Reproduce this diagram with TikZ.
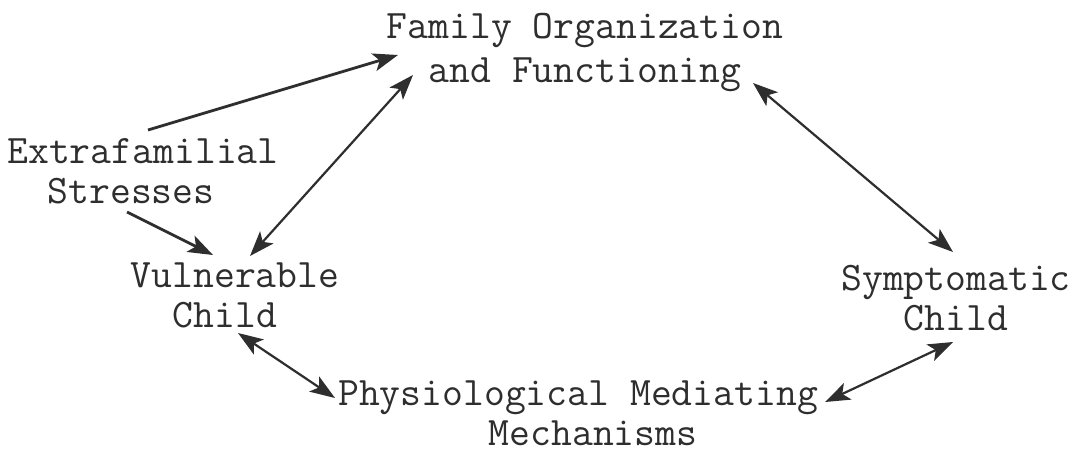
\documentclass[tikz,border=0pt]{standalone}
\usepackage{fontspec}
\usetikzlibrary{arrows.meta,calc}
\definecolor{ink}{HTML}{2E2E2E}
\newcommand{\typed}[1]{\ttfamily\addfontfeature{FakeBold=0.7}\fontsize{40.5}{#1}\selectfont}
\tikzset{
  lbl/.style={inner sep=0pt, align=center, anchor=base, text=ink, font=\typed{40}},
  head/.tip={Stealth[length=25pt,width=18pt,inset=6pt]},
  oneway/.style={draw=ink, line width=2.8pt, -head},
  twoway/.style={draw=ink, line width=2.2pt, head-head}
}
\begin{document}
\begin{tikzpicture}[x=1pt,y=-1pt]
\useasboundingbox[fill=white] (0,0) rectangle (1075,452);

% labels; each node's base anchor sits on the baseline of its last line
\node[lbl, font=\typed{44}] (fam) at (585,82) {Family Organization\\and Functioning};
\node[lbl] (ext) at (143,203) {Extrafamilial\\Stresses\hspace*{24pt}};
\node[lbl] (vul) at (235,327) {Vulnerable\\Child\hspace*{20pt}};
\node[lbl] (sym) at (956,330) {Symptomatic\\Child};
\node[lbl] (phy) at (578,445) {Physiological Mediating\\\hspace*{30pt}Mechanisms};

% outside stresses push on the family and on the child
\draw[oneway] ($(ext.base)+(5,-73)$) -- ($(fam.base)+(-187,-27)$);
\draw[oneway] ($(ext.base)+(-16,9)$) -- ($(vul.base)+(-22,-72)$);

% reciprocal influences around the loop
\draw[twoway] ($(vul.base)+(15,-71)$) -- ($(fam.base)+(-172,-7)$);
\draw[twoway] ($(fam.base)+(168,1)$) -- ($(sym.base)+(-3,-78)$);
\draw[twoway] ($(sym.base)+(-3,12)$) -- ($(phy.base)+(247,-43)$);
\draw[twoway] ($(vul.base)+(3,6)$) -- ($(phy.base)+(-243,-47)$);
\end{tikzpicture}
\end{document}
